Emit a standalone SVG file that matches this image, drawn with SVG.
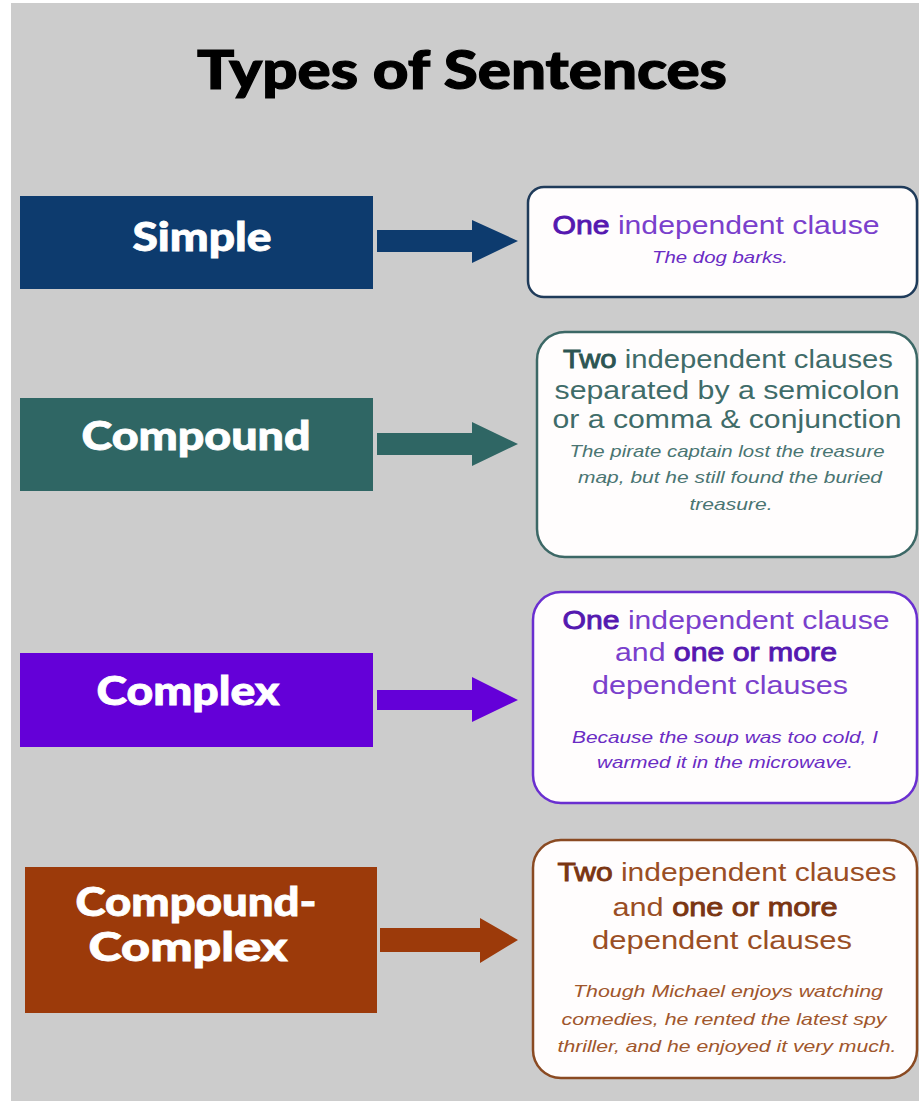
<svg xmlns="http://www.w3.org/2000/svg" width="919" height="1101" viewBox="0 0 919 1101">
  <style>
    .title { font-family: Lato, "Open Sans", "Liberation Sans", sans-serif; font-weight: 900; font-size: 54px; fill: #000; stroke: #000; stroke-width: 1.2; }
    .label { font-family: Lato, "Open Sans", "Liberation Sans", sans-serif; font-weight: 900; font-size: 39px; fill: #ffffff; stroke: #ffffff; stroke-width: 0.8; text-anchor: middle; }
    .main { font-family: "Liberation Sans", Arial, sans-serif; font-size: 26px; text-anchor: middle; }
    .ex { font-family: "Liberation Sans", Arial, sans-serif; font-size: 17px; font-style: italic; text-anchor: middle; }
    .b { stroke-width: 0.9; }
    .card { fill: #fffdfd; stroke-width: 2.5; }
  </style>

  <!-- page -->
  <rect x="0" y="0" width="919" height="1101" fill="#ffffff"/>
  <rect x="11" y="3" width="908" height="1098" fill="#cccccc"/>

  <text class="title" x="197" y="89" textLength="530" lengthAdjust="spacingAndGlyphs">Types of Sentences</text>

  <!-- sentence type labels -->
  <g id="simple">
    <rect x="20" y="196" width="353" height="93" fill="#0d3b6e"/>
    <text class="label" x="202" y="251" textLength="139" lengthAdjust="spacingAndGlyphs">Simple</text>
  </g>
  <g id="compound">
    <rect x="20" y="398" width="353" height="93" fill="#2f6664"/>
    <text class="label" x="196" y="450" textLength="229" lengthAdjust="spacingAndGlyphs">Compound</text>
  </g>
  <g id="complex">
    <rect x="20" y="653" width="353" height="94" fill="#6400d8"/>
    <text class="label" x="188" y="705" textLength="183" lengthAdjust="spacingAndGlyphs">Complex</text>
  </g>
  <g id="compound-complex">
    <rect x="25" y="867" width="352" height="146" fill="#9c3a0a"/>
    <text class="label" x="196" y="916" textLength="241" lengthAdjust="spacingAndGlyphs">Compound-</text>
    <text class="label" x="188" y="961" textLength="199" lengthAdjust="spacingAndGlyphs">Complex</text>
  </g>

  <!-- arrows from each label to its definition -->
  <g id="connectors">
    <polygon points="377,230 472,230 472,220 518,241 472,263 472,252 377,252" fill="#0d3b6e"/>
    <polygon points="377,433 472,433 472,422 518,444 472,466 472,455 377,455" fill="#2f6664"/>
    <polygon points="377,690 472,690 472,677 518,700 472,722 472,710 377,710" fill="#6400d8"/>
    <polygon points="380,928 480,928 480,918 518,940 480,963 480,952 380,952" fill="#9c3a0a"/>
  </g>

  <!-- definitions -->
  <g id="simple-def">
    <rect class="card" x="528" y="187" width="389" height="110" rx="16" stroke="#1f3b5a"/>
    <text class="main" x="716" y="234" fill="#7a40cc" textLength="327" lengthAdjust="spacingAndGlyphs"><tspan class="b" fill="#5518b0" stroke="#5518b0">One</tspan> independent clause</text>
    <text class="ex" x="720" y="263" fill="#6a2cc4" textLength="136" lengthAdjust="spacingAndGlyphs">The dog barks.</text>
  </g>

  <g id="compound-def">
    <rect class="card" x="537" y="332" width="380" height="225" rx="28" stroke="#3c6866"/>
    <text class="main" x="728" y="368" fill="#3f6c69" textLength="330" lengthAdjust="spacingAndGlyphs"><tspan class="b" fill="#2c5552" stroke="#2c5552">Two</tspan> independent clauses</text>
    <text class="main" x="727" y="399" fill="#3f6c69" textLength="345" lengthAdjust="spacingAndGlyphs">separated by a semicolon</text>
    <text class="main" x="727" y="428" fill="#3f6c69" textLength="349" lengthAdjust="spacingAndGlyphs">or a comma &amp; conjunction</text>
    <text class="ex" x="727" y="457" fill="#4a7572" textLength="315" lengthAdjust="spacingAndGlyphs">The pirate captain lost the treasure</text>
    <text class="ex" x="730" y="483" fill="#4a7572" textLength="304" lengthAdjust="spacingAndGlyphs">map, but he still found the buried</text>
    <text class="ex" x="731" y="510" fill="#4a7572" textLength="83" lengthAdjust="spacingAndGlyphs">treasure.</text>
  </g>

  <g id="complex-def">
    <rect class="card" x="533" y="592" width="384" height="211" rx="28" stroke="#6a2fd0"/>
    <text class="main" x="726" y="629" fill="#7a40cc" textLength="327" lengthAdjust="spacingAndGlyphs"><tspan class="b" fill="#5518b0" stroke="#5518b0">One</tspan> independent clause</text>
    <text class="main" x="726" y="661" fill="#7a40cc" textLength="222" lengthAdjust="spacingAndGlyphs">and <tspan class="b" fill="#5518b0" stroke="#5518b0">one or more</tspan></text>
    <text class="main" x="720" y="694" fill="#7a40cc" textLength="256" lengthAdjust="spacingAndGlyphs">dependent clauses</text>
    <text class="ex" x="725" y="743" fill="#6a2cc4" textLength="306" lengthAdjust="spacingAndGlyphs">Because the soup was too cold, I</text>
    <text class="ex" x="725" y="768" fill="#6a2cc4" textLength="256" lengthAdjust="spacingAndGlyphs">warmed it in the microwave.</text>
  </g>

  <g id="compound-complex-def">
    <rect class="card" x="533" y="840" width="384" height="238" rx="28" stroke="#8a4a22"/>
    <text class="main" x="727" y="881" fill="#9a4e24" textLength="339" lengthAdjust="spacingAndGlyphs"><tspan class="b" fill="#7a3512" stroke="#7a3512">Two</tspan> independent clauses</text>
    <text class="main" x="725" y="916" fill="#9a4e24" textLength="225" lengthAdjust="spacingAndGlyphs">and <tspan class="b" fill="#7a3512" stroke="#7a3512">one or more</tspan></text>
    <text class="main" x="722" y="949" fill="#9a4e24" textLength="260" lengthAdjust="spacingAndGlyphs">dependent clauses</text>
    <text class="ex" x="728" y="997" fill="#a0562c" textLength="310" lengthAdjust="spacingAndGlyphs">Though Michael enjoys watching</text>
    <text class="ex" x="724" y="1025" fill="#a0562c" textLength="325" lengthAdjust="spacingAndGlyphs">comedies, he rented the latest spy</text>
    <text class="ex" x="727" y="1052" fill="#a0562c" textLength="339" lengthAdjust="spacingAndGlyphs">thriller, and he enjoyed it very much.</text>
  </g>
</svg>
